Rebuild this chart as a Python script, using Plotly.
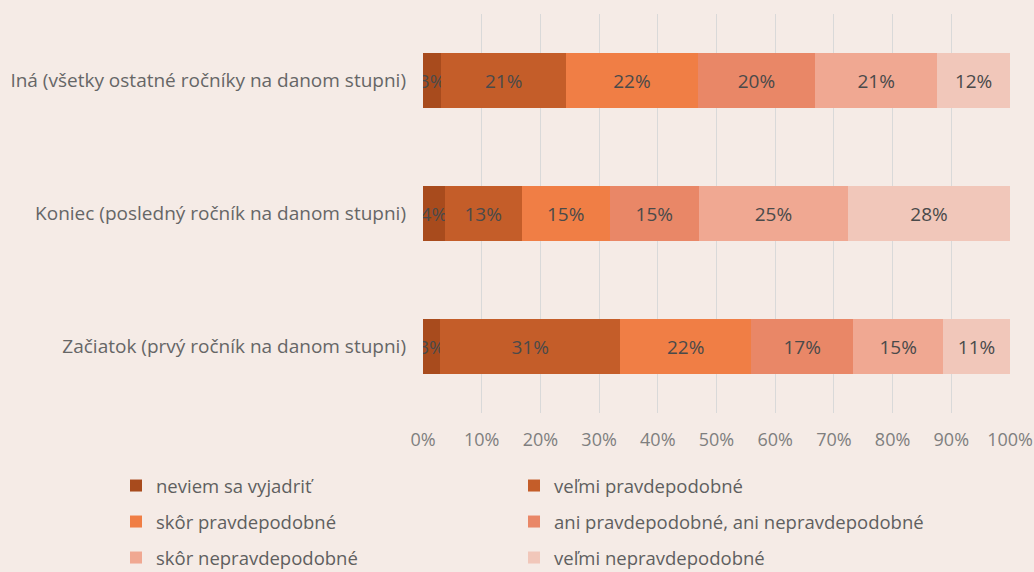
import plotly.graph_objects as go

categories = [
    "Začiatok (prvý ročník na danom stupni)",
    "Koniec (posledný ročník na danom stupni)",
    "Iná (všetky ostatné ročníky na danom stupni)",
]

# share of answers per category (bottom, middle, top)
neviem = [2.9, 3.7, 3.1]
velmi_pravd = [30.7, 13.1, 21.3]
skor_pravd = [22.3, 15.0, 22.4]
ani_ani = [17.4, 15.2, 20.0]
skor_nepravd = [15.3, 25.4, 20.8]
velmi_nepravd = [11.4, 27.6, 12.4]

# name, values, colour, legend row, legend column
series = [
    ("neviem sa vyjadriť", neviem, "#A84B1D", "legend", 0),
    ("veľmi pravdepodobné", velmi_pravd, "#C45D29", "legend", 1),
    ("skôr pravdepodobné", skor_pravd, "#F07E45", "legend2", 0),
    ("ani pravdepodobné, ani nepravdepodobné", ani_ani, "#E98767", "legend2", 1),
    ("skôr nepravdepodobné", skor_nepravd, "#F0A892", "legend3", 0),
    ("veľmi nepravdepodobné", velmi_nepravd, "#F1C7BA", "legend3", 1),
]

BG = "#F5EBE6"
FONT = "Open Sans"

fig = go.Figure()
for name, vals, color, lg, col in series:
    fig.add_trace(go.Bar(
        y=categories, x=vals, name=name, orientation="h",
        marker={"color": color, "line": {"width": 0}},
        text=vals, texttemplate="%{x:.0f}%",
        textposition="inside", insidetextanchor="middle",
        textangle=0, constraintext="none",
        textfont={"family": FONT, "size": 19, "color": "#4A4A4A"},
        legend=lg, legendwidth=353 if col == 0 else 420,
    ))

# plot area spans pixels 423..1010 horizontally and 14..413 vertically
def legend_at(px_y):
    return {
        "orientation": "h", "traceorder": "normal",
        "x": (116 - 423) / 587, "xanchor": "left",
        "y": (413 - px_y) / 399, "yanchor": "middle",
        "bgcolor": "rgba(0,0,0,0)",
        "font": {"family": FONT, "size": 18.5, "color": "#5F5F5F"},
    }

fig.update_layout(
    width=1034, height=572,
    paper_bgcolor=BG, plot_bgcolor=BG,
    barmode="stack", bargap=0.59,
    margin={"l": 423, "r": 24, "t": 14, "b": 159, "autoexpand": False},
    font={"family": FONT, "size": 18, "color": "#666666"},
    legend=legend_at(486),
    legend2=legend_at(522),
    legend3=legend_at(558),
)
fig.update_xaxes(
    range=[0, 100], dtick=10, ticksuffix="%",
    showgrid=True, gridcolor="#D9D9D9", gridwidth=1,
    zeroline=False, showline=False,
    ticklabelstandoff=14,
    tickfont={"family": FONT, "size": 18, "color": "#7F7F7F"},
)
fig.update_yaxes(
    showgrid=False, showline=False, ticklabelstandoff=16,
    tickfont={"family": FONT, "size": 19, "color": "#666666"},
)

fig.write_html(
    "out.html",
    config={"displayModeBar": False},
    post_script=f"document.body.style.margin='0';document.body.style.background='{BG}';",
)
